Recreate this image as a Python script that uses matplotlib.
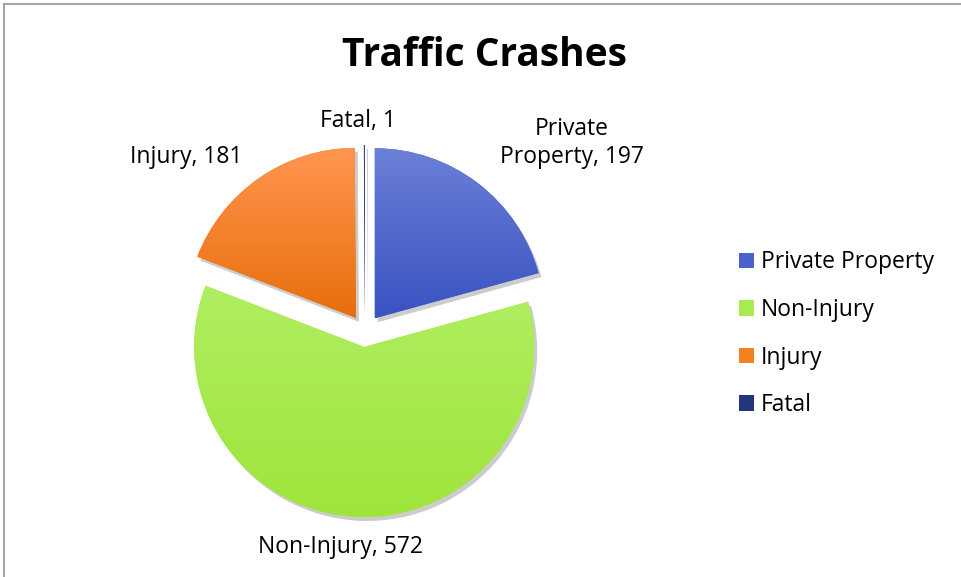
import matplotlib.pyplot as plt
import numpy as np
from matplotlib.patches import Patch, Wedge
from matplotlib.lines import Line2D

labels = ["Private Property", "Non-Injury", "Injury", "Fatal"]
values = [197, 572, 181, 1]
# (top colour, bottom colour) of each slice's gradient
top_colors = ["#6B80D6", "#B0EE62", "#FF9550", "#3A4A9A"]
bottom_colors = ["#3A52C2", "#9EE53A", "#E86E0A", "#1F2F7A"]
legend_colors = ["#4A63CC", "#A6EB50", "#F7801E", "#24357F"]

plt.rcParams['font.family'] = ['Open Sans', 'DejaVu Sans']

fig = plt.figure(figsize=(9.62, 5.77), dpi=100)
ax = fig.add_axes([0, 0, 1, 1])

cx, cy, r = 365, 577 - 331, 170
explode = [16] * len(values)  # pie explode is in data units here

wedges, _ = ax.pie(values, center=(cx, cy), radius=r, explode=explode,
                   startangle=90, counterclock=False, frame=True,
                   wedgeprops=dict(linewidth=0))
ax.set_xlim(0, 962)
ax.set_ylim(0, 577)
ax.set_aspect('auto')


def hex_rgb(h):
    h = h.lstrip('#')
    return np.array([int(h[i:i + 2], 16) / 255 for i in (0, 2, 4)])


# soft shadow + vertical gradient for every wedge
for w, tc, bc in zip(wedges, top_colors, bottom_colors):
    w.set_facecolor(bc)
    sh = Wedge((w.center[0] + 3, w.center[1] - 4), w.r, w.theta1, w.theta2,
               facecolor='black', alpha=0.2, linewidth=0, zorder=0.5)
    ax.add_patch(sh)
    bb = w.get_window_extent(fig.canvas.get_renderer())
    bb = bb.transformed(ax.transData.inverted())
    t = np.linspace(0, 1, 100)[:, None]
    img = (1 - t) * hex_rgb(tc) + t * hex_rgb(bc)
    img = np.repeat(img[:, None, :], 2, axis=1)
    im = ax.imshow(img, extent=(bb.x0, bb.x1, bb.y0, bb.y1), origin='upper',
                   aspect='auto', zorder=2)
    im.set_clip_path(w)
    w.set_zorder(1)

ax.set_xlim(0, 962)
ax.set_ylim(0, 577)
ax.set_aspect('auto')
ax.axis('off')

ax.text(485, 577 - 55, "Traffic Crashes", ha='center', va='center',
        fontsize=28, fontweight='bold', color='black')

fs = 16.5
ax.text(358, 577 - 121, f"{labels[3]}, {values[3]}", ha='center', va='center', fontsize=fs)
ax.text(572, 577 - 143, f"Private\nProperty, {values[0]}", ha='center', va='center',
        fontsize=fs, linespacing=1.2)
ax.text(186, 577 - 157, f"{labels[2]}, {values[2]}", ha='center', va='center', fontsize=fs)
ax.text(341, 577 - 547, f"{labels[1]}, {values[1]}", ha='center', va='center', fontsize=fs)

handles = [Patch(facecolor=c, edgecolor='none') for c in legend_colors]
leg = fig.legend(handles, labels, loc='upper left', bbox_to_anchor=(721 / 962, 1 - 232 / 577),
                 frameon=False, fontsize=fs, handlelength=0.65, handleheight=0.65,
                 handletextpad=0.3, labelspacing=1.03, borderpad=0.3)

# chart border (only top and left visible)
fig.add_artist(Line2D([3.5 / 962, 3.5 / 962], [0, 1 - 3.5 / 577], color='#A6A6A6', lw=1.5))
fig.add_artist(Line2D([3.5 / 962, 1], [1 - 3.5 / 577, 1 - 3.5 / 577], color='#A6A6A6', lw=1.5))

fig.savefig("out.png", dpi=100)
